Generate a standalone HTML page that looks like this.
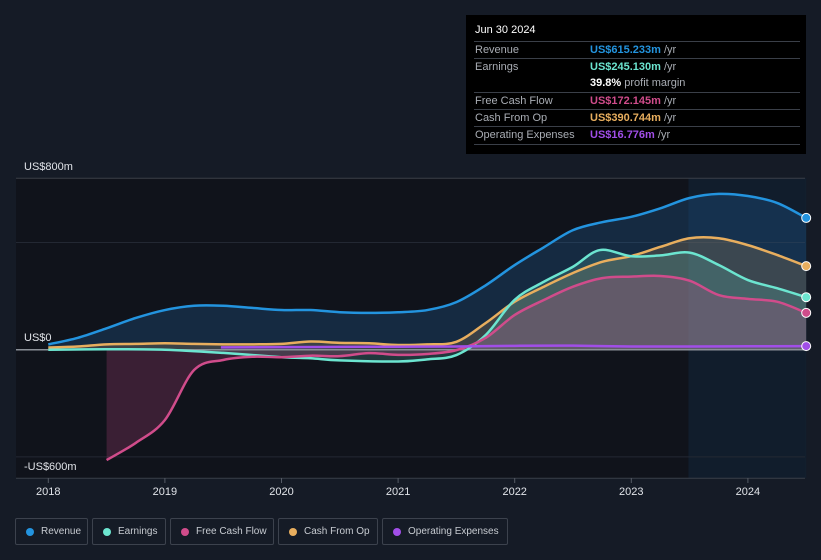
<!DOCTYPE html>
<html><head><meta charset="utf-8"><style>
body{margin:0;background:#151b26;font-family:"Liberation Sans",sans-serif;}
#wrap{position:relative;width:821px;height:560px;overflow:hidden;background:#151b26;}
svg{position:absolute;left:0;top:0;}
.tt{position:absolute;left:466px;top:15px;width:340px;height:139px;background:#000;font-size:11px;color:#fff;}
.tt .row{position:absolute;left:8px;right:6px;height:17px;border-top:1px solid #3a3f48;line-height:17px;}
.tt .lab{position:absolute;left:1px;color:#a9adb4;}
.tt .val{position:absolute;left:116px;font-weight:bold;}
.tt .u{color:#a9adb4;font-weight:normal;}
.leg{position:absolute;top:518px;height:27px;border:1px solid #3c424d;border-radius:2px;box-sizing:border-box;font-size:10px;color:#c7cbd1;line-height:25px;white-space:nowrap;}
.leg i{position:absolute;left:10px;top:9px;width:8px;height:8px;border-radius:50%;}
.leg span{position:absolute;left:25px;}
</style></head><body>
<div id="wrap">
<svg id="chart" width="821" height="560"></svg>
<div class="tt">
<div style="position:absolute;left:9px;top:9px;font-size:11px">Jun 30 2024</div>
<div class="row" style="top:26px"><span class="lab">Revenue</span><span class="val" style="color:#2394df">US$615.233m <span class="u">/yr</span></span></div>
<div class="row" style="top:43px"><span class="lab">Earnings</span><span class="val" style="color:#6ce5d0">US$245.130m <span class="u">/yr</span></span></div>
<div class="row" style="top:60px;border-top:none"><span class="val" style="color:#fff">39.8% <span class="u">profit margin</span></span></div>
<div class="row" style="top:77px"><span class="lab">Free Cash Flow</span><span class="val" style="color:#d04c8b">US$172.145m <span class="u">/yr</span></span></div>
<div class="row" style="top:94px"><span class="lab">Cash From Op</span><span class="val" style="color:#e8ae5e">US$390.744m <span class="u">/yr</span></span></div>
<div class="row" style="top:111px;border-bottom:1px solid #3a3f48"><span class="lab">Operating Expenses</span><span class="val" style="color:#a14ee8">US$16.776m <span class="u">/yr</span></span></div>
</div>
<div class="leg" style="left:15px;width:73px"><i style="background:#2394df"></i><span>Revenue</span></div>
<div class="leg" style="left:92px;width:74px"><i style="background:#6ce5d0"></i><span>Earnings</span></div>
<div class="leg" style="left:170px;width:104px"><i style="background:#d04c8b"></i><span>Free Cash Flow</span></div>
<div class="leg" style="left:278px;width:100px"><i style="background:#e8ae5e"></i><span>Cash From Op</span></div>
<div class="leg" style="left:382px;width:126px"><i style="background:#a14ee8"></i><span>Operating Expenses</span></div>
</div>
<script>
const xYears=[2018,2019,2020,2021,2022,2023,2024];
const yTicks=[800,0];
const revT=[2018,2018.25,2018.5,2018.75,2019,2019.25,2019.5,2019.75,2020,2020.25,2020.5,2020.75,2021,2021.25,2021.5,2021.75,2022,2022.25,2022.5,2022.75,2023,2023.25,2023.5,2023.75,2024,2024.25,2024.5];
const revenue=[25,55,100,148,185,205,205,195,185,185,175,172,175,185,222,300,395,478,558,595,620,660,708,727,717,685,615];
const earnT=[2018,2018.5,2019,2019.5,2020,2020.25,2020.5,2021,2021.25,2021.5,2021.75,2022,2022.25,2022.5,2022.73,2023,2023.25,2023.5,2023.75,2024,2024.25,2024.5];
const earnings=[0,2,0,-15,-35,-40,-50,-55,-45,-25,68,233,317,387,465,436,440,453,395,325,287,245];
const fcfT=[2018.5,2018.75,2019,2019.25,2019.5,2019.75,2020,2020.25,2020.5,2020.75,2021,2021.25,2021.5,2021.75,2022,2022.25,2022.5,2022.75,2023,2023.25,2023.5,2023.75,2024,2024.25,2024.5];
const fcf=[-515,-435,-328,-95,-48,-33,-35,-28,-30,-16,-24,-20,-2,55,162,232,294,334,341,344,322,255,237,224,172];
const cfoT=[2018,2018.25,2018.5,2018.75,2019,2019.25,2019.5,2019.75,2020,2020.25,2020.5,2020.75,2021,2021.25,2021.5,2021.75,2022,2022.25,2022.5,2022.75,2023,2023.25,2023.5,2023.75,2024,2024.25,2024.5];
const cfo=[10,15,25,27,30,27,25,25,27,38,32,30,22,25,37,124,224,294,358,410,437,480,520,520,488,442,390];
const opxT=[2019.48,2020,2020.5,2021,2021.5,2022,2022.5,2023,2023.5,2024,2024.5];
const opex=[11,12,13,14,15,18,19,15,15,16,16.8];

const NS='http://www.w3.org/2000/svg';
const svg=document.getElementById('chart');
const X=t=>48.3+(t-2018)*116.6;
const Y=v=>349.7-v*0.2143;
function el(tag,attrs,parent){const e=document.createElementNS(NS,tag);for(const k in attrs)e.setAttribute(k,attrs[k]);(parent||svg).appendChild(e);return e;}
function smooth(pts){let d='M'+pts[0][0]+','+pts[0][1];for(let i=0;i<pts.length-1;i++){const p0=pts[i-1]||pts[i],p1=pts[i],p2=pts[i+1],p3=pts[i+2]||p2;const c1x=p1[0]+(p2[0]-p0[0])/6,c1y=p1[1]+(p2[1]-p0[1])/6,c2x=p2[0]-(p3[0]-p1[0])/6,c2y=p2[1]-(p3[1]-p1[1])/6;d+=`C${c1x},${c1y} ${c2x},${c2y} ${p2[0]},${p2[1]}`;}return d;}
let r=el('rect',{x:16,y:178,width:789,height:300,fill:'#10131b'});

r=el('rect',{x:X(2023.49),y:178,width:X(2024.5)-X(2023.49),height:300,fill:'#12202f',opacity:0.85});

[800,500,-500].forEach(v=>{const g=el('line',{x1:16,x2:805,y1:Y(v),y2:Y(v),stroke:v==800?'#3a3f48':'#232833','stroke-width':1});});
let ax=el('line',{x1:16,x2:805,y1:478.3,y2:478.3,stroke:'#3a3f48'});

xYears.forEach(yr=>{const t=el('line',{x1:X(yr),x2:X(yr),y1:478,y2:483,stroke:'#555b66'});
const l=el('text',{x:X(yr),y:495,fill:'#e0e3e8','font-size':11,'text-anchor':'middle','font-family':'Liberation Sans, sans-serif'});l.textContent=yr;});
const yl=[['US$800m',800,170],['US$0',0,341],['-US$600m',-600,470]];
yl.forEach(a=>{const l=el('text',{x:24,y:a[2],fill:'#e0e3e8','font-size':11,'font-family':'Liberation Sans, sans-serif'});l.textContent=a[0];});
const series=[
 ['revenue',revT,revenue,'#2394df','rgba(35,110,180,0.25)'],
 ['cash-from-op',cfoT,cfo,'#e8ae5e','rgba(232,174,94,0.18)'],
 ['earnings',earnT,earnings,'#6ce5d0','rgba(108,229,208,0.18)'],
 ['free-cash-flow',fcfT,fcf,'#d04c8b','rgba(208,76,139,0.22)'],
 ['operating-expenses',opxT,opex,'#a14ee8',null]];
series.forEach(s=>{const pts=s[1].map((t,i)=>[X(t),Y(s[2][i])]);const d=smooth(pts);
 if(s[4]){const a=el('path',{d:d+`L${pts[pts.length-1][0]},${Y(0)}L${pts[0][0]},${Y(0)}Z`,fill:s[4]});}
});
let z=el('line',{x1:16,x2:805,y1:Y(0),y2:Y(0),stroke:'#8a8f97','stroke-width':1.5});

series.forEach(s=>{const pts=s[1].map((t,i)=>[X(t),Y(s[2][i])]);
 const p=el('path',{d:smooth(pts),fill:'none',stroke:s[3],'stroke-width':2.5});
 const e=pts[pts.length-1];const c=el('circle',{cx:e[0],cy:e[1],r:4.5,fill:s[3],stroke:'#fff','stroke-width':1});});
</script>
</body></html>
